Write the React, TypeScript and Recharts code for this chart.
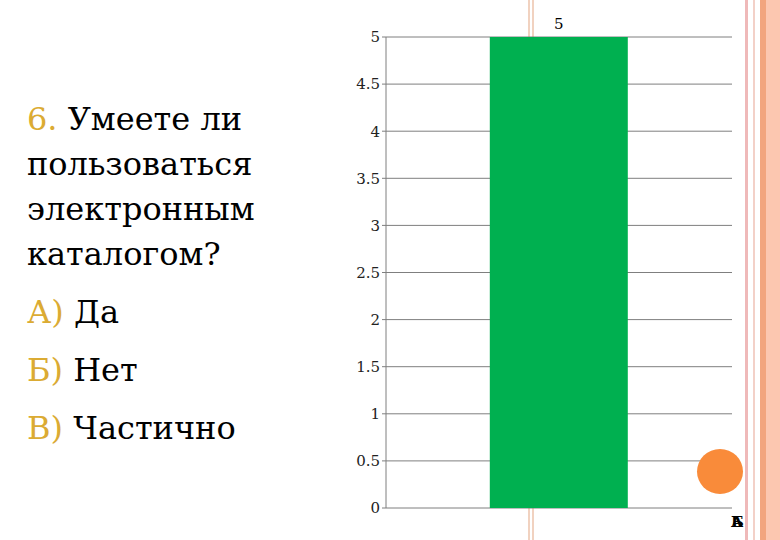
import { BarChart, Bar, XAxis, YAxis, CartesianGrid, LabelList } from "recharts";

// ответы на вопрос 6
const categories = ["А"];
const answers = [5];
const yTicks = [0, 0.5, 1, 1.5, 2, 2.5, 3, 3.5, 4, 4.5, 5];
const axisLabels = ["А", "Б"];

const question = ["Умеете ли", "пользоваться", "электронным", "каталогом?"];
const optionMarks = ["А)", "Б)", "В)"];
const optionTexts = ["Да", "Нет", "Частично"];

const data = categories.map((c, i) => ({ name: c, value: answers[i] }));

const GOLD = "#dbab33";
const SERIF = '"DejaVu Serif"';

const ValueLabel = (props: any) => {
  const { x, y, width, value } = props;
  const cx = x + width / 2;
  return (
    <g>
      <rect x={cx - 6} y={y - 22} width={12} height={21} fill="#fff" />
      <text x={cx} y={y - 8} textAnchor="middle" fontSize={15} fontFamily={SERIF} fill="#000">
        {value}
      </text>
    </g>
  );
};

// вертикальные линии рамки слайда
const Stripe = ({ left, width, color, top = 0, height = 540 }: any) => (
  <div style={{ position: "absolute", left, top, width, height, background: color }} />
);

export default function App() {
  return (
    <div
      style={{
        position: "absolute",
        left: 0,
        top: 0,
        width: 780,
        height: 540,
        overflow: "hidden",
        background: "#fff",
        fontFamily: SERIF,
      }}
    >
      <Stripe left={528} width={2} color="#f1d2c0" height={37} />
      <Stripe left={532} width={2} color="#f1d2c0" height={37} />
      <Stripe left={528} width={2} color="#f1d2c0" top={508} height={32} />
      <Stripe left={532} width={2} color="#f1d2c0" top={508} height={32} />
      <Stripe left={745} width={3} color="#efb9b9" />
      <Stripe left={753} width={2} color="#f3d1c8" />
      <Stripe left={760} width={6} color="#f2a57e" />
      <Stripe left={766} width={14} color="#fcc7b0" />

      <div style={{ position: "absolute", left: 0, top: 0 }}>
        <BarChart
          width={780}
          height={540}
          data={data}
          margin={{ top: 37, right: 48, bottom: 32, left: 336 }}
          barCategoryGap="30%"
        >
          <CartesianGrid vertical={false} stroke="#7f7f7f" horizontalValues={yTicks} />
          <XAxis dataKey="name" hide />
          <YAxis
            width={50}
            domain={[0, 5]}
            ticks={yTicks}
            stroke="#7f7f7f"
            tickSize={4}
            tick={{ fill: "#222", fontSize: 15, fontFamily: SERIF }}
            interval={0}
          />
          <Bar dataKey="value" fill="#00b050" isAnimationActive={false}>
            <LabelList dataKey="value" content={<ValueLabel />} />
          </Bar>
        </BarChart>
      </div>

      {/* подписи категорий, наложенные друг на друга */}
      {axisLabels.map((l) => (
        <div
          key={l}
          style={{ position: "absolute", left: 731, top: 513, fontSize: 15, fontWeight: "bold", color: "#000" }}
        >
          {l}
        </div>
      ))}

      <div
        style={{
          position: "absolute",
          left: 697,
          top: 449,
          width: 46,
          height: 45,
          borderRadius: "50%",
          background: "#f98b3a",
        }}
      />

      <div style={{ position: "absolute", left: 27, top: 97, fontSize: 32, lineHeight: "45px", color: "#000" }}>
        {question.map((q, i) => (
          <div key={i} style={{ whiteSpace: "nowrap" }}>
            {i === 0 && <span style={{ color: GOLD }}>6. </span>}
            {q}
          </div>
        ))}
        <div style={{ marginTop: 6, lineHeight: "58px" }}>
          {optionMarks.map((m, i) => (
            <div key={m} style={{ whiteSpace: "nowrap" }}>
              <span style={{ color: GOLD }}>{m}</span> {optionTexts[i]}
            </div>
          ))}
        </div>
      </div>
    </div>
  );
}
